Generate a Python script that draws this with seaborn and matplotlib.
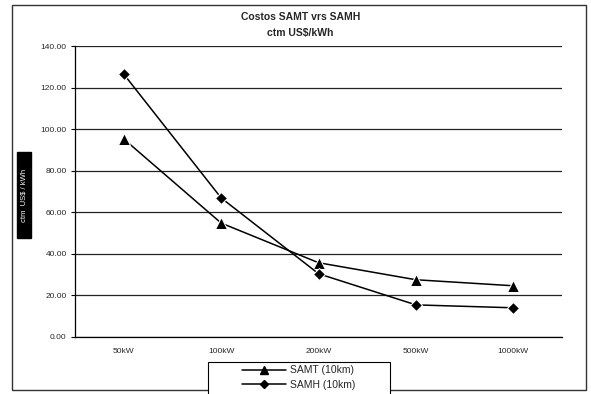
import matplotlib
matplotlib.use("Agg")
import matplotlib.pyplot as plt
from matplotlib.patches import Rectangle
from matplotlib.ticker import FixedLocator
from matplotlib.lines import Line2D
import seaborn as sns
import pandas as pd

# Plant capacity categories and unit costs (ctm US$/kWh)
capacities = ["50kW", "100kW", "200kW", "500kW", "1000kW"]
samt_cost = [95.3, 54.8, 35.7, 27.5, 24.6]
samh_cost = [126.5, 66.9, 30.4, 15.4, 14.0]
series_names = ["SAMT (10km)", "SAMH (10km)"]
y_ticks = [0, 20, 40, 60, 80, 100, 120, 140]

samt_df = pd.DataFrame({"capacity": capacities, "cost": samt_cost})
samh_df = pd.DataFrame({"capacity": capacities, "cost": samh_cost})

sns.set_style("white")
plt.rcParams["font.family"] = ["Liberation Sans", "DejaVu Sans"]

fig = plt.figure(figsize=(5.91, 3.94), dpi=100)
ax = fig.add_axes([0.127, 0.145, 0.824, 0.738])

sns.lineplot(data=samt_df, x="capacity", y="cost", color="black", marker="^",
             markersize=8, linewidth=1.1, sort=False, ax=ax)
sns.lineplot(data=samh_df, x="capacity", y="cost", color="black", marker="D",
             markersize=6.5, linewidth=1.1, sort=False, ax=ax)

ax.set_xlim(-0.5, len(capacities) - 0.5)
ax.set_ylim(0, 140)
ax.set_yticks(y_ticks)
ax.set_yticklabels([f"{v:.2f}" for v in y_ticks], fontsize=6)
ax.grid(axis="y", color="#222222", linewidth=0.9)
ax.grid(axis="x", visible=False)
ax.set_xlabel("")
ax.set_ylabel("")
ax.tick_params(axis="x", which="major", length=0, labelsize=6, pad=8)
ax.xaxis.set_minor_locator(FixedLocator([i + 0.5 for i in range(-1, len(capacities))]))
ax.tick_params(axis="x", which="minor", length=3, color="black")
ax.tick_params(axis="y", length=3, color="black", left=True, pad=3)
for side in ["top", "right"]:
    ax.spines[side].set_visible(False)
for side in ["left", "bottom"]:
    ax.spines[side].set_color("black")
    ax.spines[side].set_linewidth(0.9)

# Titles
fig.text(0.508, 0.957, "Costos SAMT vrs SAMH", ha="center",
         va="center", fontsize=7.5, fontweight="bold")
fig.text(0.508, 0.916, "ctm US$/kWh", ha="center", va="center",
         fontsize=7.5, fontweight="bold")

# Y-axis label in a dark box
fig.patches.append(Rectangle((0.0288, 0.396), 0.0237, 0.218, transform=fig.transFigure,
                             facecolor="black", edgecolor="black"))
fig.text(0.0407, 0.505, "ctm  US$ / kWh", rotation=90, ha="center", va="center",
         color="white", fontsize=5.5)

# Outer chart frame
fig.patches.append(Rectangle((0.02, 0.01), 0.972, 0.977, transform=fig.transFigure,
                             fill=False, edgecolor="#333333", linewidth=1.0))

# Legend: frame drawn as a separate box, entries centered inside it
fig.patches.append(Rectangle((0.352, -0.05), 0.308, 0.131, transform=fig.transFigure,
                             facecolor="white", edgecolor="black", linewidth=0.8))
handles = [
    Line2D([], [], color="black", marker="^", markersize=6, linewidth=1.1),
    Line2D([], [], color="black", marker="D", markersize=4.5, linewidth=1.1),
]
leg = fig.legend(handles, series_names, loc="upper center",
                 bbox_to_anchor=(0.506, 0.078), fontsize=7.5, frameon=False,
                 handlelength=4.2, borderpad=0.2, labelspacing=0.4,
                 borderaxespad=0, handletextpad=0.4)

fig.savefig("out.png", dpi=100)
